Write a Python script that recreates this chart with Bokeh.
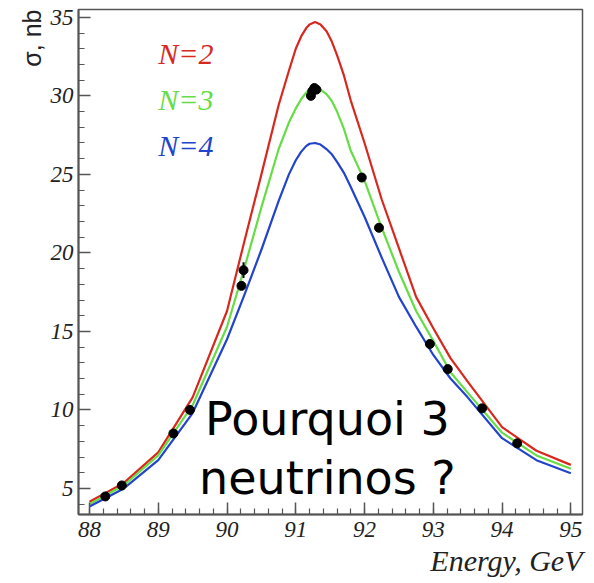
import math
from bokeh.plotting import figure
from bokeh.models import Label, FixedTicker, Range1d, Title
from bokeh.embed import file_html
from bokeh.resources import INLINE

# ---- data ----
energy = [88.0, 88.5, 89.0, 89.5, 90.0, 90.25, 90.5, 90.75, 90.9, 91.0, 91.08, 91.15, 91.2,
          91.28, 91.36, 91.45, 91.52, 91.6, 91.7, 91.8, 92.0, 92.25, 92.5, 92.75, 93.0,
          93.25, 93.5, 94.0, 94.5, 95.0]
sigma_n2 = [4.15, 5.35, 7.3, 10.8, 16.3, 20.7, 25.0, 29.4, 31.6, 33.0, 33.8, 34.3, 34.55,
            34.7, 34.55, 34.1, 33.5, 32.6, 31.3, 29.7, 27.0, 23.4, 20.3, 17.2, 15.2,
            13.3, 11.8, 8.9, 7.4, 6.5]
sigma_n3 = [4.0, 5.2, 7.1, 10.3, 15.3, 19.0, 22.9, 26.6, 28.3, 29.2, 29.8, 30.2, 30.4,
            30.5, 30.4, 30.1, 29.7, 29.0, 27.9, 26.5, 24.6, 21.6, 18.8, 16.3, 14.4,
            12.4, 11.1, 8.55, 7.1, 6.25]
sigma_n4 = [3.85, 5.0, 6.8, 9.8, 14.5, 17.3, 20.2, 23.3, 25.0, 25.9, 26.45, 26.8, 26.95,
            27.0, 26.9, 26.6, 26.3, 25.8, 25.1, 24.2, 22.3, 19.7, 17.2, 15.3, 13.5,
            12.0, 10.8, 8.2, 6.8, 5.97]

data_e = [88.23, 88.47, 89.22, 89.46, 90.21, 90.24, 91.22, 91.24, 91.27, 91.30,
          91.96, 92.21, 92.95, 93.21, 93.71, 94.22]
data_s = [4.49, 5.19, 8.5, 10.0, 17.9, 18.9, 30.0, 30.3, 30.5, 30.4,
          24.8, 21.6, 14.2, 12.6, 10.1, 7.87]
data_err = [0, 0, 0, 0, 0, 0.5, 0, 0, 0, 0, 0, 0, 0, 0, 0, 0]

x_ticks = [88, 89, 90, 91, 92, 93, 94, 95]
y_ticks = [5, 10, 15, 20, 25, 30, 35]
legend_labels = ["N=2", "N=3", "N=4"]
colors = ["#d8281e", "#66dd44", "#2244cc"]

SERIF = "Liberation Serif"

p = figure(width=594, height=583, output_backend="svg", toolbar_location=None,
           x_range=Range1d(87.84, 95.17), y_range=Range1d(3.34, 35.5),
           min_border_left=78, min_border_right=12, min_border_top=9, min_border_bottom=69)
p.background_fill_color = "white"
p.border_fill_color = "white"
p.grid.visible = False
p.outline_line_color = "#555555"
p.outline_line_width = 1.5

for ax in (p.xaxis[0], p.yaxis[0]):
    ax.axis_line_color = "#555555"
    ax.axis_line_width = 2
    ax.major_tick_line_color = "#555555"
    ax.minor_tick_line_color = "#555555"
    ax.major_tick_line_width = 1.5
    ax.minor_tick_line_width = 1.2
    ax.major_tick_in = 12
    ax.major_tick_out = 0
    ax.minor_tick_in = 6
    ax.minor_tick_out = 0
    ax.major_label_text_font = SERIF
    ax.major_label_text_font_style = "italic"
    ax.major_label_text_font_size = "23px"
    ax.major_label_text_color = "#222222"

p.xaxis[0].ticker = FixedTicker(ticks=x_ticks,
                                minor_ticks=[round(87.8 + 0.2 * i, 1) for i in range(38)])
p.yaxis[0].ticker = FixedTicker(ticks=y_ticks, minor_ticks=list(range(3, 36)))
p.xaxis[0].major_label_standoff = 7
p.yaxis[0].major_label_standoff = 5

for ys, c in zip([sigma_n2, sigma_n3, sigma_n4], colors):
    p.line(energy, ys, line_color=c, line_width=2.2, line_join="round")

err_lo = [s - e for s, e in zip(data_s, data_err)]
err_hi = [s + e for s, e in zip(data_s, data_err)]
p.segment(data_e, err_lo, data_e, err_hi, line_color="black", line_width=2)
p.scatter(data_e, data_s, size=9, color="black")

# legend texts
for lab, c, yy in zip(legend_labels, colors, [32.7, 29.77, 26.84]):
    p.add_layout(Label(x=89.0, y=yy, text=lab, text_color=c, text_font=SERIF,
                       text_font_style="italic", text_font_size="30px",
                       text_baseline="alphabetic"))

# axis titles
p.add_layout(Title(text="Energy, GeV", align="right", text_font=SERIF,
                   text_font_style="italic", text_font_size="30px",
                   text_color="#222222", standoff=4, offset=0), "below")
p.add_layout(Title(text="σ, nb", align="right", text_font="Liberation Sans",
                   text_font_style="normal", text_font_size="25px",
                   text_color="#222222", standoff=4, offset=0), "left")

# overlay text
p.add_layout(Label(x=91.46, y=9.45, text="Pourquoi 3", text_align="center",
                   text_baseline="alphabetic",
                   text_font="DejaVu Sans", text_font_size="46px", text_color="black"))
p.add_layout(Label(x=91.46, y=5.65, text="neutrinos ?", text_align="center",
                   text_baseline="alphabetic",
                   text_font="DejaVu Sans", text_font_size="46px", text_color="black"))

open("out.html", "w").write(file_html(p, INLINE))
